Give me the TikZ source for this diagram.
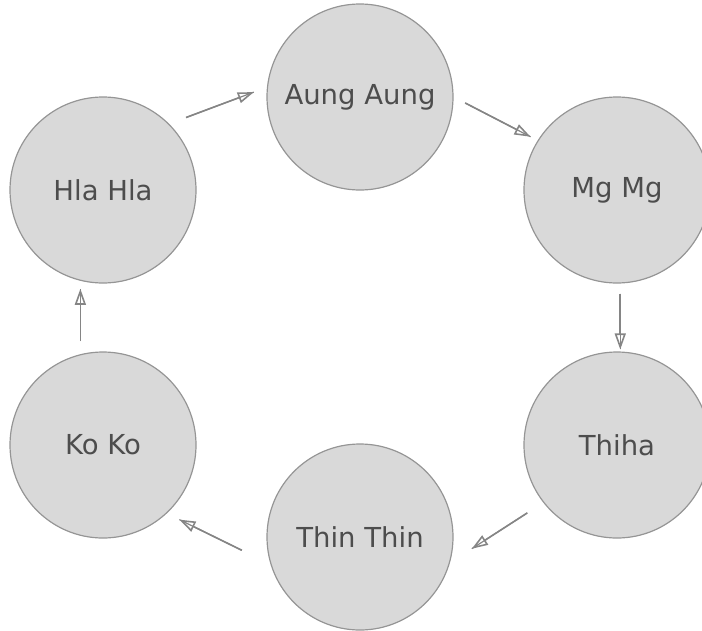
\documentclass[tikz,border=0pt]{standalone}
\usepackage{fontspec}
\setmainfont{DejaVu Sans}
\usetikzlibrary{arrows.meta}
\definecolor{circfill}{HTML}{D9D9D9}
\definecolor{circline}{HTML}{959595}
\definecolor{arrline}{HTML}{858585}
\definecolor{txt}{HTML}{4D4D4D}
\tikzset{
  person/.style={circle,draw=circline,fill=circfill,line width=1.2pt,minimum size=186pt,inner sep=0pt,text=txt,font=\fontsize{27.5}{32}\selectfont},
  link/.style={draw=arrline,line width=1.6pt,-{Triangle[open,length=16pt,width=11pt]},postaction={draw=arrline,line width=1.2pt,-}}
}
\begin{document}
\begin{tikzpicture}[x=1pt,y=1pt]
\useasboundingbox(0,0)rectangle(702,-630);
%people
\node[person](aung)at(360,-97){Aung Aung};
\node[person](hla)at(103,-190){Hla Hla};
\node[person](mg)at(617,-190){Mg Mg};
\node[person](thiha)at(617,-445){Thiha};
\node[person](koko)at(103,-445){Ko Ko};
\node[person](thin)at(360,-537){Thin Thin};
%arrows
\draw[link,shorten <=18pt,shorten >=14pt](hla.45)--(aung.174);
\draw[link,shorten <=13pt,shorten >=8pt](aung.0)--(mg.148);
\draw[link,shorten <=10pt,shorten >=2pt](mg.-88)--(thiha.88);
\draw[link,shorten <=19pt,shorten >=26pt](thiha.218)--(thin.344);
\draw[link,shorten <=32pt,shorten >=14pt](thin.197)--(koko.313);
\draw[link,shorten <=13pt,shorten >=8pt](koko.104)--(hla.256);
\end{tikzpicture}
\end{document}
